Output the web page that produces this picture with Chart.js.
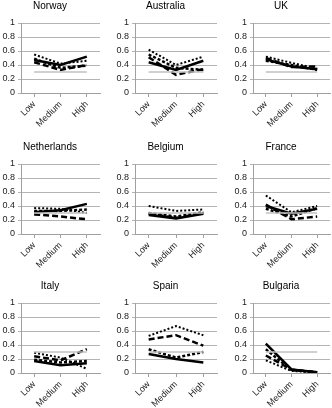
<!DOCTYPE html>
<html>
<head>
<meta charset="utf-8">
<script src="https://cdn.jsdelivr.net/npm/chart.js@4"></script>
<style>
  body { margin: 0; background: #fff; width: 332px; height: 408px; overflow: hidden; position: relative; }
  canvas { position: absolute; }
</style>
</head>
<body>
<script>
// categorias e séries (uma linha por país)
const countries = ["Norway", "Australia", "UK", "Netherlands", "Belgium", "France", "Italy", "Spain", "Bulgaria"];
const levels = ["Low", "Medium", "High"];

const solidSeries = [
  [0.47, 0.40, 0.52], [0.44, 0.33, 0.46], [0.48, 0.38, 0.34],
  [0.31, 0.34, 0.43], [0.27, 0.22, 0.29], [0.40, 0.29, 0.36],
  [0.17, 0.11, 0.14], [0.27, 0.20, 0.15], [0.42, 0.05, 0.01]
];
const dashedSeries = [
  [0.44, 0.33, 0.40], [0.51, 0.26, 0.34], [0.50, 0.37, 0.38],
  [0.28, 0.25, 0.21], [0.29, 0.23, 0.30], [0.42, 0.21, 0.25],
  [0.24, 0.18, 0.34], [0.48, 0.54, 0.39], [0.25, 0.05, 0.01]
];
const dottedSeries = [
  [0.55, 0.42, 0.46], [0.62, 0.40, 0.52], [0.52, 0.43, 0.35],
  [0.37, 0.36, 0.30], [0.40, 0.33, 0.35], [0.55, 0.31, 0.40],
  [0.29, 0.22, 0.06], [0.53, 0.67, 0.54], [0.18, 0.03, 0.01]
];
const shortDashSeries = [
  [0.49, 0.36, 0.39], [0.55, 0.36, 0.33], [0.46, 0.40, 0.33],
  [0.33, 0.33, 0.35], [0.30, 0.25, 0.31], [0.36, 0.25, 0.37],
  [0.19, 0.15, 0.17], [0.34, 0.22, 0.30], [0.34, 0.04, 0.01]
];
const referenceLine = [0.3, 0.3, 0.3];

const colLeft = [0, 114, 232];
const colWidth = [104, 107, 100];
const rowTop = [0, 141, 280];

const fonte = "'Liberation Sans', Arial, sans-serif";

function linha(data, dash, width, color) {
  return {
    data: data,
    borderColor: color,
    borderWidth: width,
    borderDash: dash,
    pointRadius: 0,
    fill: false,
    tension: 0
  };
}

countries.forEach((pais, i) => {
  const col = i % 3;
  const row = Math.floor(i / 3);

  const canvas = document.createElement("canvas");
  canvas.width = colWidth[col];
  canvas.height = 130;
  canvas.style.left = colLeft[col] + "px";
  canvas.style.top = rowTop[row] + "px";
  document.body.appendChild(canvas);

  new Chart(canvas, {
    type: "line",
    data: {
      labels: levels,
      datasets: [
        linha(referenceLine, [], 1.5, "#c0c0c0"),
        linha(dottedSeries[i], [2, 2], 2, "#000"),
        linha(shortDashSeries[i], [3, 2], 2.5, "#000"),
        linha(dashedSeries[i], [6, 3], 2.5, "#000"),
        linha(solidSeries[i], [], 2.5, "#000")
      ]
    },
    options: {
      responsive: false,
      animation: false,
      layout: { padding: { right: col === 2 ? 2 : 4, left: 0, top: 0, bottom: 0 } },
      plugins: {
        legend: { display: false },
        tooltip: { enabled: false },
        title: {
          display: true,
          text: pais,
          color: "#000",
          font: { family: fonte, size: 10, weight: "normal" },
          padding: { top: 0, bottom: 11 }
        }
      },
      scales: {
        x: {
          offset: true,
          afterFit: (scale) => { scale.height = 37; },
          grid: { drawOnChartArea: false, drawTicks: true, tickLength: 4, color: "#a0a0a0" },
          border: { color: "#a0a0a0" },
          ticks: {
            minRotation: 45, maxRotation: 45, padding: 2,
            color: "#222", font: { family: fonte, size: 9 }
          }
        },
        y: {
          min: 0, max: 1,
          afterFit: (scale) => { scale.width = 21; },
          grid: { color: "#b4b4b4", tickLength: 3 },
          border: { color: "#a0a0a0" },
          ticks: {
            stepSize: 0.2, padding: 3,
            callback: (v) => String(Math.round(v * 10) / 10),
            color: "#222", font: { family: fonte, size: 9 }
          }
        }
      }
    }
  });
});
</script>
</body>
</html>
